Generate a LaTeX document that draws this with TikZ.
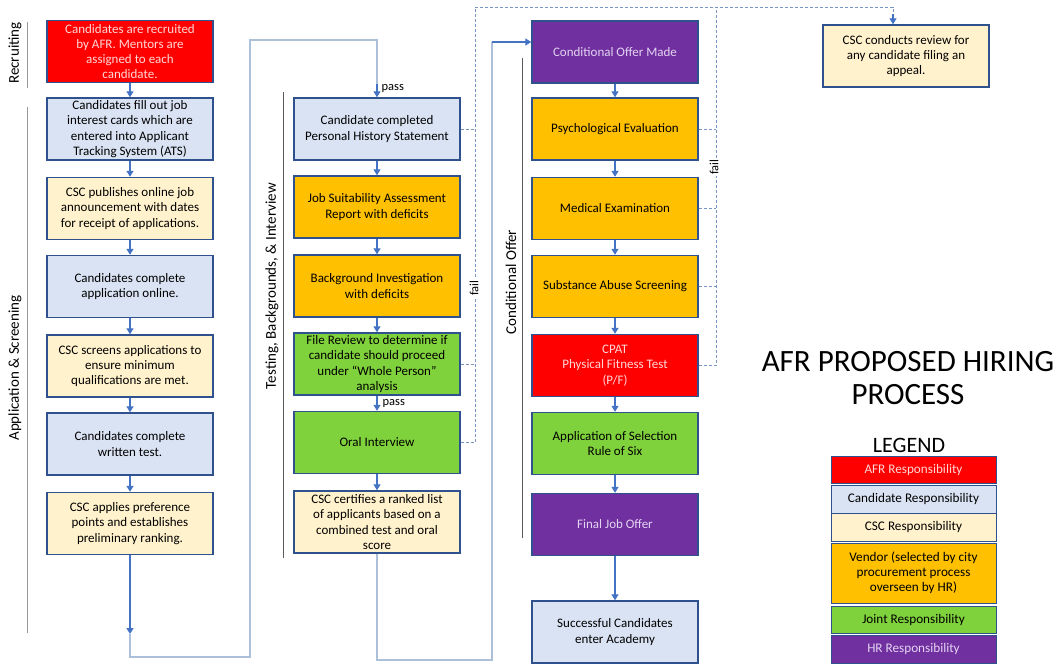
\documentclass[tikz,border=0pt]{standalone}
\usepackage{fontspec}
\setmainfont{Carlito}
\usetikzlibrary{arrows.meta}

\definecolor{afrred}{RGB}{255,0,0}
\definecolor{candblue}{RGB}{218,227,243}
\definecolor{csccream}{RGB}{255,242,204}
\definecolor{vendorgold}{RGB}{255,192,0}
\definecolor{jointgreen}{RGB}{128,210,60}
\definecolor{hrpurple}{RGB}{112,48,160}
\definecolor{boxline}{RGB}{47,82,143}
\definecolor{flowblue}{RGB}{68,114,196}
\definecolor{loopblue}{RGB}{172,192,218}
\definecolor{failblue}{RGB}{120,150,195}
\definecolor{palered}{RGB}{255,215,215}
\definecolor{palepurple}{RGB}{228,212,242}

\tikzset{
  stage/.style={draw=boxline, line width=1.4pt, minimum width=166pt, minimum height=62pt,
    inner xsep=2pt, inner ysep=1pt, align=center, font=\fontsize{13}{15.3}\selectfont},
  afr/.style={stage, fill=afrred, text=palered},
  cand/.style={stage, fill=candblue},
  csc/.style={stage, fill=csccream},
  vend/.style={stage, fill=vendorgold},
  jnt/.style={stage, fill=jointgreen},
  hr/.style={stage, fill=hrpurple, text=palepurple},
  flow/.style={draw=flowblue, line width=1.3pt, -{Triangle[length=6pt,width=7pt]}},
  loopline/.style={draw=loopblue, line width=1.2pt},
  failline/.style={draw=failblue, line width=0.8pt, dash pattern=on 3pt off 2pt},
  phase/.style={rotate=90, font=\fontsize{15}{18}\selectfont},
  rule/.style={draw=black!65, line width=0.8pt},
  note/.style={font=\fontsize{12.5}{14}\selectfont, inner sep=1pt},
  legbox/.style={draw=boxline, line width=0.9pt, minimum width=165pt, align=center,
    inner sep=1pt, font=\fontsize{13.2}{15}\selectfont}
}

\begin{document}
\begin{tikzpicture}[x=1pt, y=-1pt]
  \useasboundingbox (0,0) rectangle (1059,664);

  %% Phase labels
  \node[phase] (recruiting) at (15,53) {Recruiting};
  \draw[rule, draw=black!40] (27,22) -- (27,88);
  \node[phase] (screening) at (15,368) {Application \& Screening};
  \draw[rule, draw=black!40] (27,107) -- (27,633);
  \node[phase] (testing) at (272,286) {Testing, Backgrounds, \& Interview};
  \draw[rule] (283,92) -- (283,558);
  \node[phase] (conditional) at (511,282) {Conditional Offer};
  \draw[rule] (522,58) -- (522,538);

  %% Column 1
  \node[afr]  (recruit)    at (130,51.5) {Candidates are recruited\\by AFR.  Mentors are\\assigned to each\\candidate.};
  \node[cand] (fillout)    at (130,129)  {Candidates fill out job\\interest cards which are\\entered into Applicant\\Tracking System (ATS)};
  \node[csc]  (publish)    at (130,208.5){CSC publishes online job\\announcement with dates\\for receipt of applications.};
  \node[cand] (online)     at (130,286.5){Candidates complete\\application online.};
  \node[csc]  (screen)     at (130,366)  {CSC screens applications to\\ensure minimum\\qualifications are met.};
  \node[cand] (written)    at (130,444)  {Candidates complete\\written test.};
  \node[csc]  (prefpoints) at (130,523.5){CSC applies preference\\points and establishes\\preliminary ranking.};

  %% Column 2
  \node[cand] (history)    at (377,129)  {Candidate completed\\Personal History Statement};
  \node[vend] (suitability)at (377,207)  {Job Suitability Assessment\\Report with deficits};
  \node[vend] (background) at (377,286)  {Background Investigation\\with deficits};
  \node[jnt]  (filereview) at (377,364)  {File Review to determine if\\candidate should proceed\\under ``Whole Person''\\analysis};
  \node[jnt]  (oral)       at (377,442.5){Oral Interview};
  \node[csc]  (certify)    at (377,522)  {CSC certifies a ranked list\\of applicants based on a\\combined test and oral\\score};

  %% Column 3
  \node[hr]   (offer)      at (615,52)   {Conditional Offer Made};
  \node[vend] (psych)      at (615,129)  {Psychological Evaluation};
  \node[vend] (medical)    at (615,208.5){Medical Examination};
  \node[vend] (substance)  at (615,286.5){Substance Abuse Screening};
  \node[afr]  (cpat)       at (615,365.5){CPAT\\Physical Fitness Test\\(P/F)};
  \node[jnt]  (ruleofsix)  at (615,443.5){Application of Selection\\Rule of Six};
  \node[hr]   (finaloffer) at (615,524.5){Final Job Offer};
  \node[cand] (academy)    at (615,632)  {Successful Candidates\\enter Academy};

  %% Appeal
  \node[csc]  (appeal)     at (906,56)   {CSC conducts review for\\any candidate filing an\\appeal.};

  %% Flow arrows
  \draw[flow] (recruit) -- (fillout);
  \draw[flow] (fillout) -- (publish);
  \draw[flow] (publish) -- (online);
  \draw[flow] (online) -- (screen);
  \draw[flow] (screen) -- (written);
  \draw[flow] (written) -- (prefpoints);
  \draw[flow] (history) -- (suitability);
  \draw[flow] (suitability) -- (background);
  \draw[flow] (background) -- (filereview);
  \draw[flow] (filereview) -- node[note, right=4pt] {pass} (oral);
  \draw[flow] (oral) -- (certify);
  \draw[flow] (offer) -- (psych);
  \draw[flow] (psych) -- (medical);
  \draw[flow] (medical) -- (substance);
  \draw[flow] (substance) -- (cpat);
  \draw[flow] (cpat) -- (ruleofsix);
  \draw[flow] (ruleofsix) -- (finaloffer);
  \draw[flow] (finaloffer) -- (academy);

  %% Return lines between columns
  \coordinate (leftdown) at (130,634);
  \coordinate (leftbot)  at (250,657);
  \coordinate (lefttop)  at (250,40);
  \coordinate (passin)   at (377,84);
  \draw[flow] (prefpoints) -- (leftdown);
  \draw[loopline] (leftdown) |- (leftbot) -- (lefttop) -| (passin);
  \draw[flow] (passin) -- node[note, right=3pt, pos=0.3] {pass} (history);

  \coordinate (midbot) at (492,660);
  \coordinate (midtop) at (492,42);
  \draw[loopline] (certify) |- (midbot) -- (midtop);
  \draw[flow] (midtop) -- ([yshift=10pt]offer.west);

  %% Fail lines
  \coordinate (failmid)   at (475,7);
  \coordinate (failright) at (716,7);
  \coordinate (appealin)  at (893,14);
  \draw[failline] (history) -- (history -| failmid);
  \draw[failline] (filereview) -- (filereview -| failmid);
  \draw[failline] (oral) -| (failmid) -| (appealin);
  \draw[flow] (appealin) -- (appealin |- appeal.north);
  \node[note, rotate=90, fill=white] (failA) at (474,288) {fail};

  \draw[failline] (psych) -- (psych -| failright);
  \draw[failline] (medical) -- (medical -| failright);
  \draw[failline] (substance) -- (substance -| failright);
  \draw[failline] (cpat) -| (failright);
  \node[note, rotate=90, fill=white] (failB) at (714,167) {fail};

  %% Title
  \node[align=center, font=\fontsize{31}{33}\selectfont] (title) at (908,378)
    {AFR PROPOSED HIRING\\PROCESS};

  %% Legend
  \node[font=\fontsize{22}{26}\selectfont] (legend) at (909,445) {LEGEND};
  \node[legbox, fill=afrred, text=palered, minimum height=27pt] (legafr) at (913.5,469.5) {AFR Responsibility};
  \node[legbox, fill=candblue, minimum height=28pt] (legcand) at (913.5,499) {Candidate Responsibility};
  \node[legbox, fill=csccream, minimum height=28pt] (legcsc) at (913.5,527) {CSC Responsibility};
  \node[legbox, fill=vendorgold, minimum height=60pt] (legvend) at (913.5,573)
    {Vendor (selected by city\\procurement process\\overseen by HR)};
  \node[legbox, fill=jointgreen, minimum height=27pt] (legjoint) at (913.5,619.5) {Joint Responsibility};
  \node[legbox, fill=hrpurple, text=palepurple, minimum height=28pt] (leghr) at (913.5,649) {HR Responsibility};
\end{tikzpicture}
\end{document}
